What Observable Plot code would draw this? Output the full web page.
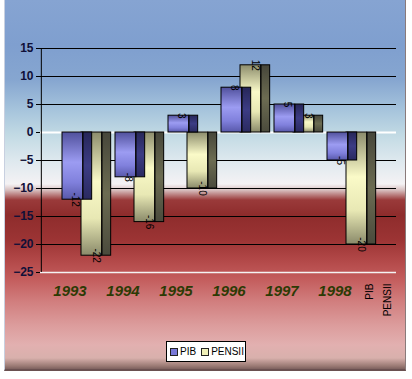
<!DOCTYPE html>
<html>
<head>
<meta charset="utf-8">
<script src="https://cdn.jsdelivr.net/npm/d3@7"></script>
<script src="https://cdn.jsdelivr.net/npm/@observablehq/plot@0.6"></script>
<style>
  html, body { margin: 0; padding: 0; background: #fff; }
  #wrap { position: relative; width: 412px; height: 379px; overflow: hidden; font-family: "Liberation Sans", Arial, sans-serif; }
  #bg { position: absolute; left: 4px; top: 0; width: 402px; height: 371px; box-sizing: border-box; border-right: 1px solid #8a7a7a; border-bottom: 2px solid #6a5050; border-left: 1px solid #c8d0e0;
    background: linear-gradient(to bottom,
      #86a4d2 0px, #7f9fcf 45px, #86a6d0 80px, #a6c4dc 110px, #c2dae4 135px, #dde8ee 160px, #f4f2f4 184px,
      #d8c0c0 190px, #9a3a3a 200px, #8e2c2c 215px, #9c3434 240px, #b44a4a 262px, #c45e5e 280px,
      #d07c7c 300px, #dc9c9c 325px, #e2b0b0 345px, #d8b0ac 358px, #9a7a74 366px, #6a5050 371px); }
  #chart { position: absolute; left: 0; top: 0; }
  #legend { position: absolute; left: 166px; top: 341px; width: 80px; height: 21px; box-sizing: border-box; background: #fff; border: 1px solid #000;
    display: flex; align-items: center; font-size: 10px; color: #000; padding-left: 3px; white-space: nowrap; }
  .sw { display: inline-block; width: 6px; height: 6px; border: 1px solid #222; margin-right: 2px; }
  .item { display: flex; align-items: center; margin-right: 5px; }
</style>
</head>
<body>
<div id="wrap">
  <div id="bg"></div>
  <div id="chart"></div>
  <div id="legend"></div>
</div>
<script>
const years = ["1993", "1994", "1995", "1996", "1997", "1998"];
const pib = [-12, -8, 3, 8, 5, -5];
const pensii = [-22, -16, -10, 12, 3, -20];
const seriesNames = ["PIB", "PENSII"];
const yTicks = [15, 10, 5, 0, -5, -10, -15, -20, -25];
const seriesColors = ["#7878d8", "#f0f0b8"];

const pibData = years.map((y, i) => ({year: y, value: pib[i]}));
const penData = years.map((y, i) => ({year: y, value: pensii[i]}));

const bw = 320 / 6;

function defs() {
  const svg = d3.create("svg:defs");
  const grad = (id, stops) => {
    const g = svg.append("linearGradient").attr("id", id).attr("x1", 0).attr("y1", 0).attr("x2", 0).attr("y2", 1);
    stops.forEach(([o, c]) => g.append("stop").attr("offset", o).attr("stop-color", c));
  };
  grad("pibFront", [[0, "#50509c"], [0.45, "#9c9cf2"], [0.75, "#8080dc"], [1, "#5858aa"]]);
  grad("pibSide", [[0, "#262658"], [0.5, "#3c3c84"], [1, "#2a2a60"]]);
  grad("penFront", [[0, "#8c8c6c"], [0.4, "#fafac8"], [0.7, "#e8e8b4"], [1, "#8a8a6a"]]);
  grad("penSide", [[0, "#46463a"], [0.5, "#6c6c52"], [1, "#4a4a3c"]]);
  return svg.node();
}

const chart = Plot.plot({
  width: 412,
  height: 330,
  marginLeft: 40,
  marginRight: 16,
  marginTop: 48,
  marginBottom: 58,
  style: {background: "transparent", fontFamily: "'Liberation Sans', Arial, sans-serif", overflow: "visible"},
  x: {domain: years, range: [40, 360], padding: 0, label: null},
  y: {domain: [-25, 15], label: null},
  marks: [
    defs,
    Plot.gridY(yTicks, {stroke: "#000", strokeOpacity: 1, strokeWidth: 1}),
    Plot.ruleY([0], {stroke: "#fff", strokeWidth: 2}),
    Plot.ruleY([-25], {stroke: "#f4f4f4", strokeWidth: 1.5}),
    Plot.ruleX([years[0]], {x: d => d, y1: -25, y2: 15, dx: -bw / 2, stroke: "#000"}),
    // PENSII (back)
    Plot.barY(penData, {x: "year", y1: 0, y2: "value", insetLeft: 21, insetRight: bw - 42, dx: 19, fill: "url(#penFront)", stroke: "#000", strokeWidth: 1}),
    Plot.barY(penData, {x: "year", y1: 0, y2: "value", insetLeft: 42, insetRight: bw - 51, dx: 19, fill: "url(#penSide)", stroke: "#000", strokeWidth: 1}),
    // PIB (front)
    Plot.barY(pibData, {x: "year", y1: 0, y2: "value", insetLeft: 21, insetRight: bw - 42, fill: "url(#pibFront)", stroke: "#000", strokeWidth: 1}),
    Plot.barY(pibData, {x: "year", y1: 0, y2: "value", insetLeft: 42, insetRight: bw - 51, fill: "url(#pibSide)", stroke: "#000", strokeWidth: 1}),
    // value labels
    Plot.text(penData, {x: "year", y: "value", text: d => String(d.value), rotate: 90, dx: 28, fontSize: 10, fill: "#000"}),
    Plot.text(pibData, {x: "year", y: "value", text: d => String(d.value), rotate: 90, dx: 7, fontSize: 10, fill: "#000"}),
    Plot.axisY(yTicks, {tickSize: 4, tickPadding: 3, fontSize: 12, fontWeight: "bold", color: "#101038", stroke: "#000"}),
    Plot.axisX({tickSize: 0, tickPadding: 13, fontSize: 15, fontWeight: "bold", fontStyle: "italic", fill: "#2c3a04", dx: 2, style: "letter-spacing:1.5px"}),
    Plot.text([seriesNames[0]], {frameAnchor: "bottom-right", text: d => d, rotate: -90, textAnchor: "end", dx: -24, dy: 11, fontSize: 10, fill: "#000"}),
    Plot.text([seriesNames[1]], {frameAnchor: "bottom-right", text: d => d, rotate: -90, textAnchor: "end", dx: -6, dy: 11, fontSize: 10, fill: "#000"})
  ]
});
document.getElementById("chart").appendChild(chart);

const legend = document.getElementById("legend");
seriesNames.forEach((n, i) => {
  const it = document.createElement("span");
  it.className = "item";
  const sw = document.createElement("span");
  sw.className = "sw";
  sw.style.background = seriesColors[i];
  it.appendChild(sw);
  it.appendChild(document.createTextNode(n));
  legend.appendChild(it);
});
</script>
</body>
</html>
